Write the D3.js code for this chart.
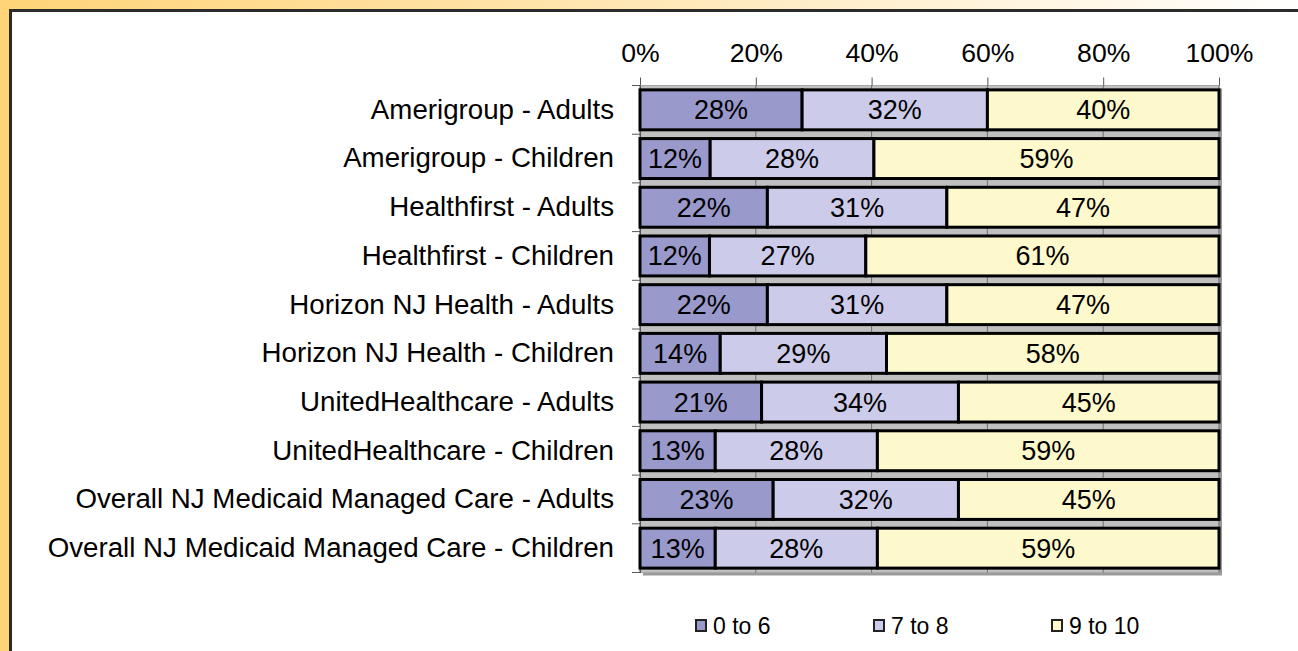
<!DOCTYPE html>
<html>
<head>
<meta charset="utf-8">
<script src="https://cdn.jsdelivr.net/npm/d3@7"></script>
<style>
  html, body { margin: 0; padding: 0; background: #fff; }
  svg { display: block; }
  text { font-family: "Liberation Sans", Arial, sans-serif; fill: #000; }
</style>
</head>
<body>
<svg id="chart" width="1298" height="651"></svg>
<script>
const categories = [
  "Amerigroup - Adults",
  "Amerigroup - Children",
  "Healthfirst - Adults",
  "Healthfirst - Children",
  "Horizon NJ Health - Adults",
  "Horizon NJ Health - Children",
  "UnitedHealthcare - Adults",
  "UnitedHealthcare - Children",
  "Overall NJ Medicaid Managed Care - Adults",
  "Overall NJ Medicaid Managed Care - Children"
];
const seriesNames = ["0 to 6", "7 to 8", "9 to 10"];
const score0to6  = [28, 12, 22, 12, 22, 14, 21, 13, 23, 13];
const score7to8  = [32, 28, 31, 27, 31, 29, 34, 28, 32, 28];
const score9to10 = [40, 59, 47, 61, 47, 58, 45, 59, 45, 59];
const xTicks = [0, 0.2, 0.4, 0.6, 0.8, 1.0];
const colors = ["#9999cc", "#ccccea", "#fdf9cd"];

(function () {
const svg = d3.select("#chart");
const W = 1298, H = 651;
const FONT = "Liberation Sans, Arial, sans-serif";

const defs = svg.append("defs");
const grad = defs.append("linearGradient").attr("id", "bgGrad")
  .attr("x1", "0%").attr("y1", "0%").attr("x2", "100%").attr("y2", "0%");
grad.append("stop").attr("offset", "0%").attr("stop-color", "#ffd478");
grad.append("stop").attr("offset", "40%").attr("stop-color", "#ffe3a8");
grad.append("stop").attr("offset", "100%").attr("stop-color", "#ffffff");
svg.append("rect").attr("x", 0).attr("y", 0).attr("width", W).attr("height", H).attr("fill", "url(#bgGrad)");
svg.append("rect").attr("x", 10.5).attr("y", 10.5).attr("width", W + 20).attr("height", H + 20)
  .attr("fill", "#fff").attr("stroke", "#2b2b2b").attr("stroke-width", 3);

const rows = categories.map((c, i) => {
  const vals = [score0to6[i], score7to8[i], score9to10[i]];
  return { cat: c, vals, total: d3.sum(vals) };
});

const pL = 640, pR = 1219, pT = 85.5, pB = 572.5;
const x = d3.scaleLinear().domain([0, 1]).range([pL, pR]);
const y = d3.scaleBand().domain(categories).range([pT, pB]).paddingInner(0.18).paddingOuter(0.09);

svg.append("rect").attr("x", pL + 3).attr("y", pT + 3).attr("width", pR - pL).attr("height", pB - pT)
  .attr("fill", "#9a9a9a");
svg.append("rect").attr("x", pL).attr("y", pT).attr("width", pR - pL).attr("height", pB - pT)
  .attr("fill", "#c0c0c0").attr("stroke", "#a8a8a8").attr("stroke-width", 1);

svg.append("g").selectAll("line").data(xTicks).join("line")
  .attr("x1", d => x(d)).attr("x2", d => x(d))
  .attr("y1", pT).attr("y2", pB)
  .attr("stroke", "#6e6e6e").attr("stroke-width", 1);

const xAxis = d3.axisTop(x).tickValues(xTicks).tickFormat(d3.format(".0%")).tickSize(8).tickPadding(15.5);
const gx = svg.append("g").attr("transform", `translate(0,${pT})`).call(xAxis);
gx.select(".domain").remove();
gx.selectAll(".tick line").attr("stroke", "#555");
gx.selectAll(".tick text").attr("font-size", 26.6).attr("font-family", FONT).attr("fill", "#000");

const yAxis = d3.axisLeft(y).tickSize(0).tickPadding(26);
const gy = svg.append("g").attr("transform", `translate(${pL},0)`).call(yAxis);
gy.select(".domain").attr("stroke", "#555");
gy.selectAll(".tick text").attr("font-size", 27.7).attr("font-family", FONT).attr("fill", "#000");
const bounds = d3.range(categories.length + 1).map(i => pT + i * (pB - pT) / categories.length);
svg.append("g").selectAll("line").data(bounds).join("line")
  .attr("x1", pL - 8).attr("x2", pL).attr("y1", d => d).attr("y2", d => d)
  .attr("stroke", "#555").attr("stroke-width", 1);

const barG = svg.append("g");
rows.forEach(r => {
  let cum = 0;
  r.vals.forEach((v, k) => {
    const x0 = cum / r.total, x1 = (cum + v) / r.total;
    cum += v;
    barG.append("rect")
      .attr("x", x(x0)).attr("y", y(r.cat))
      .attr("width", x(x1) - x(x0)).attr("height", y.bandwidth())
      .attr("fill", colors[k]).attr("stroke", "#000").attr("stroke-width", 3);
    barG.append("text")
      .attr("x", (x(x0) + x(x1)) / 2).attr("y", y(r.cat) + y.bandwidth() / 2 + 9.5)
      .attr("text-anchor", "middle").attr("font-size", 27)
      .text(v + "%");
  });
});

const legendX = [695, 873, 1051];
const lg = svg.append("g");
seriesNames.forEach((s, k) => {
  lg.append("rect").attr("x", legendX[k] + 1).attr("y", 620).attr("width", 10).attr("height", 11)
    .attr("fill", colors[k]).attr("stroke", "#222").attr("stroke-width", 2);
  lg.append("text").attr("x", legendX[k] + 18).attr("y", 633.5).attr("font-size", 23).text(s);
});
})();
</script>
</body>
</html>
